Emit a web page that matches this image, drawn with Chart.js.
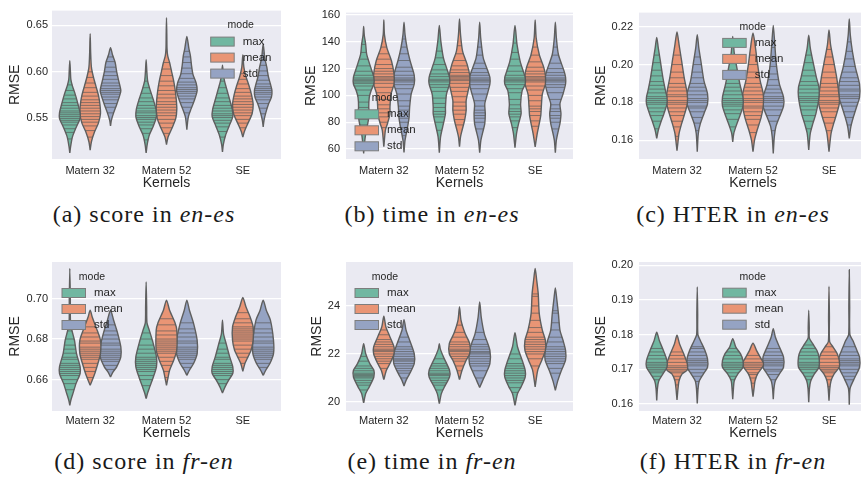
<!DOCTYPE html>
<html>
<head>
<meta charset="utf-8">
<script src="https://cdn.jsdelivr.net/npm/chart.js@4.4.1/dist/chart.umd.min.js"></script>
<style>
  body { margin: 0; width: 861px; height: 477px; overflow: hidden; background: #fff; position: relative; }
  canvas { position: absolute; }
  .cap {
    position: absolute; transform: translateX(-50%); white-space: nowrap;
    font-family: "Liberation Serif", "Times New Roman", serif; font-size: 24px;
    letter-spacing: 1px; line-height: 24px; color: #1a1a1a;
  }
</style>
</head>
<body>
<canvas id="scoreEnEs" width="285" height="195" style="left:0;top:0"></canvas>
<canvas id="timeEnEs" width="287" height="195" style="left:290px;top:0"></canvas>
<canvas id="hterEnEs" width="288" height="195" style="left:583px;top:0"></canvas>
<canvas id="scoreFrEn" width="285" height="206" style="left:0;top:240px"></canvas>
<canvas id="timeFrEn" width="287" height="206" style="left:290px;top:240px"></canvas>
<canvas id="hterFrEn" width="288" height="206" style="left:583px;top:240px"></canvas>

<div class="cap" style="left:144px;top:202px">(a) score in <i>en-es</i></div>
<div class="cap" style="left:432px;top:202px">(b) time in <i>en-es</i></div>
<div class="cap" style="left:733px;top:202px">(c) HTER in <i>en-es</i></div>
<div class="cap" style="left:144px;top:449px">(d) score in <i>fr-en</i></div>
<div class="cap" style="left:432px;top:449px">(e) time in <i>fr-en</i></div>
<div class="cap" style="left:733px;top:449px">(f) HTER in <i>fr-en</i></div>

<script>
const kernels = ['Matern 32', 'Matern 52', 'SE'];
const modes = ['max', 'mean', 'std'];
const modeColors = ['#71b7a1', '#e99575', '#95a3c3'];

// Violin profiles: [value, relative half-width], per mode then per kernel
const scoreEnEsProfiles = [
  [
    [[0.513,0],[0.520,0.08],[0.530,0.25],[0.540,0.6],[0.550,1.0],[0.556,1.0],[0.565,0.8],[0.575,0.55],[0.585,0.25],[0.592,0.1],[0.600,0.06],[0.612,0]],
    [[0.513,0],[0.522,0.1],[0.532,0.3],[0.542,0.7],[0.552,1.0],[0.560,0.95],[0.570,0.7],[0.580,0.4],[0.590,0.15],[0.600,0.07],[0.613,0]],
    [[0.514,0],[0.522,0.08],[0.532,0.3],[0.542,0.65],[0.552,1.0],[0.560,0.95],[0.570,0.7],[0.580,0.45],[0.590,0.2],[0.598,0.08],[0.607,0]]
  ],
  [
    [[0.516,0],[0.525,0.12],[0.535,0.4],[0.545,0.8],[0.555,1.0],[0.565,0.95],[0.575,0.8],[0.585,0.55],[0.595,0.3],[0.605,0.12],[0.620,0.05],[0.641,0]],
    [[0.522,0],[0.530,0.15],[0.540,0.55],[0.550,0.9],[0.560,1.0],[0.570,0.95],[0.580,0.85],[0.590,0.7],[0.600,0.5],[0.610,0.3],[0.617,0.12],[0.625,0.05],[0.640,0.03],[0.658,0]],
    [[0.530,0],[0.536,0.15],[0.545,0.5],[0.555,0.9],[0.565,1.0],[0.575,0.85],[0.585,0.6],[0.595,0.3],[0.605,0.1],[0.618,0]]
  ],
  [
    [[0.542,0],[0.548,0.08],[0.556,0.3],[0.565,0.6],[0.575,0.9],[0.580,1.0],[0.590,0.8],[0.600,0.6],[0.610,0.45],[0.618,0.2],[0.626,0]],
    [[0.538,0],[0.545,0.06],[0.552,0.15],[0.560,0.4],[0.570,0.75],[0.580,1.0],[0.588,0.9],[0.597,0.6],[0.607,0.45],[0.617,0.35],[0.625,0.2],[0.638,0]],
    [[0.541,0],[0.548,0.08],[0.556,0.25],[0.565,0.5],[0.573,0.8],[0.580,0.85],[0.587,0.7],[0.595,0.5],[0.605,0.35],[0.615,0.15],[0.630,0]]
  ]
];
const scoreEnEsSticks = [
  [
    [0.528,0.535,0.539,0.543,0.546,0.548,0.550,0.552,0.554,0.556,0.558,0.561,0.564,0.567,0.571,0.575,0.580,0.586],
    [0.527,0.534,0.539,0.543,0.546,0.549,0.551,0.553,0.556,0.558,0.561,0.564,0.568,0.572,0.577,0.583,0.590],
    [0.530,0.536,0.541,0.545,0.548,0.551,0.553,0.555,0.558,0.561,0.564,0.568,0.572,0.577,0.583,0.590]
  ],
  [
    [0.530,0.537,0.542,0.546,0.549,0.552,0.555,0.558,0.561,0.564,0.567,0.570,0.574,0.578,0.583,0.588,0.594,0.600],
    [0.534,0.540,0.545,0.549,0.553,0.556,0.559,0.562,0.565,0.568,0.572,0.576,0.580,0.585,0.590,0.596,0.603,0.610],
    [0.540,0.545,0.549,0.553,0.556,0.559,0.562,0.565,0.568,0.571,0.574,0.578,0.582,0.587,0.592,0.598]
  ],
  [
    [0.556,0.562,0.566,0.570,0.573,0.576,0.578,0.580,0.582,0.585,0.588,0.592,0.596,0.600,0.605,0.611,0.616],
    [0.556,0.562,0.567,0.571,0.574,0.577,0.579,0.581,0.583,0.586,0.589,0.593,0.598,0.604,0.610,0.616,0.622],
    [0.555,0.561,0.566,0.570,0.573,0.576,0.578,0.580,0.582,0.584,0.587,0.591,0.596,0.601,0.607,0.613,0.620]
  ]
];

const timeEnEsProfiles = [
  [
    [[56.8,0],[64.2,0.08],[71.5,0.2],[78.9,0.4],[86.3,0.55],[91.2,0.5],[98.6,0.55],[104,0.75],[108.5,1.0],[113.5,1.0],[120.7,0.7],[130.5,0.3],[137.9,0.2],[145,0.06],[151.4,0]],
    [[57.3,0],[69.1,0.12],[78.9,0.4],[86.3,0.6],[91.2,0.6],[101,0.7],[108.5,1.0],[113.5,1.0],[120.7,0.7],[128,0.4],[140.3,0.15],[152.1,0]],
    [[61,0],[71.5,0.15],[78.9,0.35],[86.3,0.6],[93.7,0.55],[103.5,0.7],[108.5,1.0],[113.5,1.0],[118.2,0.8],[125.6,0.5],[137.9,0.2],[152.1,0]]
  ],
  [
    [[61.7,0],[74,0.15],[78.9,0.35],[86.3,0.6],[91.2,0.6],[101,0.7],[108.5,1.0],[115.8,1.0],[125.6,0.75],[135.4,0.3],[145.3,0.06],[156.3,0]],
    [[61.7,0],[69.1,0.1],[74,0.25],[81.4,0.5],[88.7,0.65],[96.1,0.65],[103.5,0.85],[108.5,1.0],[115,1.0],[123.1,0.75],[133,0.3],[145.3,0.1],[157,0]],
    [[61.7,0],[71.5,0.2],[78.9,0.4],[85.1,0.55],[91.2,0.6],[101,0.7],[108.5,1.0],[115,1.0],[120.7,0.85],[130.5,0.4],[142.8,0.1],[156.3,0]]
  ],
  [
    [[57.5,0],[66.6,0.1],[76.5,0.35],[83.8,0.5],[91.2,0.55],[101,0.7],[108.5,1.0],[115,1.0],[125.6,0.6],[135.4,0.3],[145.3,0.1],[154.6,0]],
    [[57.3,0],[66.6,0.12],[74,0.35],[78.9,0.5],[86.3,0.55],[93.7,0.5],[101,0.75],[108.5,1.0],[113.5,1.0],[118.2,0.8],[128,0.35],[142.8,0.1],[154.6,0]],
    [[57.3,0],[66.6,0.1],[74,0.3],[78.9,0.45],[86.3,0.55],[93.7,0.45],[101,0.75],[108.5,1.0],[113.5,1.0],[118.2,0.85],[130.5,0.3],[142.8,0.1],[154.6,0]]
  ]
];
const timeEnEsSticks = [
  [
    [72,78,82,86,88,91,95,100,104,107,109,110,111,112,113,115,118,122,127,132,138],
    [74,80,84,86,88,91,94,98,103,106,108,110,111,112,114,116,119,123,128,133],
    [76,81,84,86,88,90,93,97,102,105,108,110,111,112,113,115,118,122,127,132,139]
  ],
  [
    [76,80,84,87,90,93,97,102,106,109,111,112,113,114,116,118,120,123,127,131,136],
    [78,82,86,89,92,95,99,103,106,109,111,112,113,114,115,117,119,122,126,131,137],
    [77,81,85,88,90,92,96,100,104,107,110,111,112,113,114,116,118,121,125,130,136]
  ],
  [
    [70,76,80,83,86,89,92,96,101,105,108,110,111,112,113,115,118,121,126,131,136,142],
    [75,80,83,85,87,89,92,96,101,105,108,110,111,112,113,115,117,120,124,130,136],
    [75,80,83,85,88,90,93,97,102,106,108,110,111,112,113,115,117,120,124,130,136]
  ]
];

const hterEnEsProfiles = [
  [
    [[0.1609,0],[0.1652,0.15],[0.1687,0.35],[0.174,0.7],[0.1792,1.0],[0.1827,1.0],[0.1862,0.85],[0.1931,0.6],[0.2019,0.35],[0.2088,0.15],[0.2144,0]],
    [[0.1591,0],[0.1635,0.1],[0.167,0.3],[0.1722,0.65],[0.178,1.0],[0.1827,1.0],[0.1896,0.7],[0.1984,0.4],[0.206,0.15],[0.2149,0]],
    [[0.1548,0],[0.1635,0.15],[0.1687,0.4],[0.174,0.7],[0.1827,1.0],[0.1879,1.0],[0.1931,0.75],[0.2019,0.4],[0.2088,0.15],[0.2155,0]]
  ],
  [
    [[0.1544,0],[0.1583,0.08],[0.1635,0.2],[0.1687,0.45],[0.174,0.75],[0.1792,1.0],[0.1845,1.0],[0.1931,0.7],[0.2019,0.45],[0.2106,0.2],[0.2172,0]],
    [[0.1539,0],[0.16,0.15],[0.1652,0.4],[0.1722,0.8],[0.178,1.0],[0.1845,1.0],[0.1914,0.7],[0.2001,0.45],[0.2106,0.2],[0.2167,0]],
    [[0.1539,0],[0.1635,0.2],[0.1687,0.45],[0.174,0.75],[0.1792,1.0],[0.1827,1.0],[0.1931,0.75],[0.2019,0.45],[0.2106,0.15],[0.2183,0]]
  ],
  [
    [[0.1539,0],[0.1635,0.1],[0.1687,0.3],[0.174,0.65],[0.1792,1.0],[0.1845,1.0],[0.1914,0.65],[0.2001,0.4],[0.2088,0.15],[0.2158,0]],
    [[0.153,0],[0.1617,0.1],[0.167,0.25],[0.1722,0.6],[0.178,1.0],[0.1827,1.0],[0.1896,0.6],[0.2001,0.3],[0.2106,0.15],[0.2207,0]],
    [[0.1609,0],[0.167,0.15],[0.1722,0.4],[0.1774,0.7],[0.1827,1.0],[0.1896,1.0],[0.1984,0.6],[0.2071,0.3],[0.2158,0.1],[0.2242,0]]
  ]
];
const hterEnEsSticks = [
  [
    [0.166,0.170,0.173,0.175,0.177,0.179,0.180,0.181,0.182,0.183,0.185,0.187,0.189,0.191,0.194,0.197,0.201,0.205],
    [0.167,0.171,0.174,0.176,0.178,0.179,0.180,0.181,0.182,0.184,0.186,0.188,0.190,0.193,0.197,0.201],
    [0.166,0.170,0.173,0.176,0.178,0.180,0.181,0.182,0.183,0.185,0.187,0.189,0.191,0.194,0.197,0.201,0.205]
  ],
  [
    [0.162,0.167,0.170,0.173,0.175,0.177,0.179,0.180,0.181,0.183,0.184,0.186,0.188,0.190,0.193,0.196,0.200,0.205],
    [0.164,0.168,0.171,0.173,0.175,0.177,0.178,0.180,0.181,0.182,0.184,0.186,0.188,0.190,0.193,0.196,0.200,0.205],
    [0.165,0.169,0.172,0.175,0.177,0.179,0.180,0.181,0.183,0.184,0.186,0.188,0.190,0.193,0.196,0.200,0.204,0.208]
  ],
  [
    [0.165,0.169,0.172,0.175,0.177,0.178,0.180,0.181,0.182,0.184,0.186,0.188,0.190,0.193,0.196,0.200,0.204],
    [0.165,0.170,0.173,0.176,0.178,0.180,0.181,0.182,0.183,0.185,0.187,0.189,0.192,0.195,0.199,0.204,0.209],
    [0.168,0.172,0.175,0.178,0.180,0.182,0.183,0.184,0.186,0.187,0.189,0.191,0.193,0.196,0.199,0.203,0.207,0.212]
  ]
];

const scoreFrEnProfiles = [
  [
    [[0.6473,0],[0.6498,0.1],[0.6531,0.3],[0.658,0.6],[0.663,1.0],[0.6663,1.0],[0.6728,0.65],[0.6794,0.45],[0.6844,0.2],[0.6893,0.06],[0.700,0.05],[0.7148,0]],
    [[0.6506,0],[0.6535,0.15],[0.6564,0.35],[0.6613,0.7],[0.6663,1.0],[0.6712,1.0],[0.6794,0.6],[0.6844,0.3],[0.688,0.08],[0.696,0.05],[0.7082,0]],
    [[0.6534,0],[0.6564,0.25],[0.6597,0.6],[0.663,1.0],[0.6663,1.0],[0.6712,0.7],[0.6778,0.35],[0.6827,0.1],[0.6893,0]]
  ],
  [
    [[0.6572,0],[0.6597,0.2],[0.663,0.45],[0.6679,0.75],[0.6728,1.0],[0.6794,1.0],[0.686,0.55],[0.6909,0.2],[0.6942,0]],
    [[0.6572,0],[0.661,0.15],[0.6646,0.3],[0.6695,0.7],[0.6745,1.0],[0.6844,1.0],[0.6877,0.85],[0.6942,0.3],[0.6992,0]],
    [[0.6641,0],[0.6679,0.2],[0.6712,0.5],[0.6745,0.8],[0.6794,1.0],[0.686,1.0],[0.691,0.7],[0.6959,0.3],[0.7005,0]]
  ],
  [
    [[0.6613,0],[0.6638,0.25],[0.6663,0.6],[0.6712,1.0],[0.6761,1.0],[0.6827,0.7],[0.6893,0.3],[0.6942,0]],
    [[0.6621,0],[0.6646,0.25],[0.6679,0.65],[0.6728,1.0],[0.6794,1.0],[0.6877,0.65],[0.6942,0.25],[0.6992,0]],
    [[0.6621,0],[0.6646,0.25],[0.6679,0.65],[0.6728,1.0],[0.6794,1.0],[0.6893,0.7],[0.6942,0.3],[0.6992,0]]
  ]
];
const scoreFrEnSticks = [
  [
    [0.655,0.658,0.660,0.662,0.663,0.664,0.665,0.666,0.667,0.668,0.670,0.671,0.673,0.675,0.677,0.680,0.684],
    [0.657,0.660,0.662,0.664,0.665,0.666,0.667,0.668,0.669,0.670,0.671,0.673,0.675,0.677,0.680,0.683],
    [0.658,0.660,0.662,0.663,0.664,0.665,0.666,0.667,0.668,0.670,0.671,0.673,0.675,0.678]
  ],
  [
    [0.661,0.664,0.666,0.668,0.670,0.671,0.672,0.673,0.674,0.675,0.676,0.678,0.679,0.681,0.683,0.686],
    [0.661,0.664,0.667,0.669,0.671,0.673,0.674,0.675,0.676,0.677,0.678,0.679,0.680,0.682,0.684,0.687,0.690],
    [0.668,0.671,0.673,0.675,0.677,0.679,0.680,0.681,0.682,0.683,0.684,0.685,0.686,0.688,0.690,0.693]
  ],
  [
    [0.665,0.667,0.669,0.670,0.671,0.672,0.673,0.674,0.675,0.677,0.678,0.680,0.682,0.684,0.687],
    [0.666,0.668,0.670,0.671,0.672,0.673,0.674,0.675,0.676,0.678,0.679,0.681,0.683,0.685,0.688],
    [0.666,0.668,0.670,0.671,0.672,0.673,0.674,0.675,0.676,0.678,0.679,0.681,0.683,0.685,0.688]
  ]
];

const timeFrEnProfiles = [
  [
    [[19.96,0],[20.35,0.2],[20.63,0.55],[21.04,1.0],[21.32,1.0],[21.6,0.6],[22.01,0.2],[22.43,0]],
    [[19.93,0],[20.35,0.2],[20.63,0.5],[21.04,1.0],[21.32,1.0],[21.88,0.4],[22.2,0.1],[22.43,0]],
    [[19.86,0],[20.35,0.25],[20.63,0.6],[21.04,1.0],[21.32,1.0],[21.74,0.7],[22.29,0.25],[22.89,0]]
  ],
  [
    [[20.93,0],[21.32,0.25],[21.6,0.6],[22.01,1.0],[22.29,1.0],[22.71,0.6],[23.13,0.2],[23.57,0]],
    [[20.93,0],[21.32,0.25],[21.74,0.65],[22.01,1.0],[22.43,1.0],[22.85,0.55],[23.4,0.15],[23.96,0]],
    [[20.63,0],[21.32,0.25],[21.74,0.65],[22.15,1.0],[22.57,1.0],[22.99,0.7],[23.68,0.4],[24.51,0.3],[25.07,0.15],[25.56,0]]
  ],
  [
    [[20.67,0],[20.9,0.2],[21.18,0.55],[21.6,1.0],[22.01,1.0],[22.57,0.55],[22.99,0.2],[23.43,0]],
    [[20.6,0],[20.9,0.3],[21.18,0.6],[21.6,1.0],[22.15,1.0],[22.85,0.45],[23.54,0.15],[24.17,0]],
    [[20.49,0],[20.9,0.25],[21.32,0.6],[21.74,1.0],[22.15,1.0],[22.57,0.75],[22.99,0.45],[23.68,0.3],[24.24,0.15],[24.75,0]]
  ]
];
const timeFrEnSticks = [
  [
    [20.5,20.7,20.8,20.9,21.0,21.05,21.1,21.15,21.2,21.3,21.4,21.5,21.7,21.9],
    [20.5,20.7,20.8,20.9,21.0,21.1,21.15,21.2,21.3,21.4,21.5,21.6,21.8],
    [20.4,20.6,20.8,20.9,21.0,21.1,21.2,21.3,21.4,21.5,21.6,21.8,22.0]
  ],
  [
    [21.4,21.6,21.7,21.8,21.9,22.0,22.1,22.15,22.2,22.3,22.4,22.5,22.6,22.8,23.0],
    [21.3,21.5,21.7,21.8,21.9,22.0,22.1,22.15,22.2,22.3,22.4,22.5,22.7,22.9,23.2],
    [21.5,21.8,22.0,22.1,22.2,22.3,22.4,22.5,22.6,22.7,22.9,23.1,23.4,23.7,24.0,24.4,24.5]
  ],
  [
    [21.0,21.2,21.3,21.4,21.5,21.6,21.7,21.75,21.8,21.9,22.0,22.1,22.2,22.3,22.5,22.7],
    [21.0,21.3,21.5,21.6,21.7,21.8,21.9,22.0,22.05,22.1,22.2,22.3,22.4,22.6,22.9],
    [21.2,21.4,21.6,21.7,21.8,21.9,22.0,22.1,22.2,22.3,22.5,22.7,23.0,23.3,23.7,23.8]
  ]
];

const hterFrEnProfiles = [
  [
    [[0.161,0],[0.1645,0.07],[0.1667,0.2],[0.1687,0.6],[0.1706,1.0],[0.1725,1.0],[0.1754,0.65],[0.1783,0.25],[0.1807,0]],
    [[0.1614,0],[0.1645,0.07],[0.1667,0.15],[0.1687,0.5],[0.1706,1.0],[0.1725,1.0],[0.1745,0.75],[0.1764,0.3],[0.1788,0]],
    [[0.1605,0],[0.1645,0.07],[0.1667,0.2],[0.1687,0.55],[0.1706,1.0],[0.1735,1.0],[0.1754,0.8],[0.1773,0.4],[0.179,0.06],[0.182,0.05],[0.187,0]]
  ],
  [
    [[0.1612,0],[0.1645,0.1],[0.1667,0.2],[0.1687,0.5],[0.1698,1.0],[0.1716,1.0],[0.1745,0.65],[0.1773,0.25],[0.1798,0]],
    [[0.1621,0],[0.1645,0.1],[0.1667,0.2],[0.1687,0.45],[0.171,1.0],[0.172,1.0],[0.173,0.8],[0.1754,0.35],[0.1775,0]],
    [[0.161,0],[0.1645,0.08],[0.1667,0.2],[0.1687,0.5],[0.1706,1.0],[0.1725,1.0],[0.1745,0.8],[0.1764,0.4],[0.178,0.06],[0.185,0.04],[0.1939,0]]
  ],
  [
    [[0.1602,0],[0.1645,0.08],[0.1667,0.2],[0.1687,0.6],[0.1706,1.0],[0.173,1.0],[0.1754,0.75],[0.1783,0.3],[0.180,0.06],[0.186,0.04],[0.1937,0]],
    [[0.1614,0],[0.1645,0.07],[0.1667,0.2],[0.1687,0.6],[0.1706,1.0],[0.1735,1.0],[0.1764,0.6],[0.1793,0.2],[0.1817,0]],
    [[0.1598,0],[0.1645,0.08],[0.1677,0.55],[0.1706,1.0],[0.1735,1.0],[0.1754,0.75],[0.1783,0.35],[0.180,0.06],[0.188,0.04],[0.1987,0]]
  ]
];
const hterFrEnSticks = [
  [
    [0.1645,0.167,0.168,0.169,0.1695,0.170,0.1705,0.171,0.1715,0.172,0.173,0.174,0.175,0.176],
    [0.1645,0.167,0.168,0.169,0.170,0.1705,0.171,0.1715,0.172,0.173,0.174,0.175,0.176],
    [0.1645,0.167,0.168,0.169,0.170,0.1705,0.171,0.1715,0.172,0.173,0.174,0.175,0.176,0.177]
  ],
  [
    [0.163,0.1655,0.167,0.168,0.169,0.1695,0.170,0.1705,0.171,0.172,0.173,0.174,0.175],
    [0.164,0.166,0.1675,0.1685,0.169,0.170,0.1705,0.171,0.1715,0.172,0.173,0.174],
    [0.165,0.167,0.168,0.169,0.1695,0.170,0.1705,0.171,0.172,0.173,0.174,0.175,0.1765]
  ],
  [
    [0.1645,0.1665,0.168,0.169,0.170,0.171,0.1715,0.172,0.1725,0.173,0.174,0.175,0.176,0.1765],
    [0.1645,0.167,0.1685,0.1695,0.170,0.171,0.1715,0.172,0.1725,0.173,0.174,0.175,0.176],
    [0.1645,0.167,0.168,0.169,0.170,0.171,0.1715,0.172,0.1725,0.173,0.174,0.175,0.1765]
  ]
];

const HUE_STEP = 0.8 / 3;   // offset between the three modes inside a kernel group
const HALF = 0.135;         // full half-width of one violin, in category units
const OUTLINE = '#5f5f5f';
const STICK = 'rgba(89,89,89,0.85)';
const TEXT = '#262626';

Chart.defaults.font.family = '"Liberation Sans", Arial, sans-serif';
Chart.defaults.color = TEXT;

// half-width of a violin at value v
function widthAt(profile, v) {
  for (let i = 0; i < profile.length - 1; i++) {
    const [v0, w0] = profile[i];
    const [v1, w1] = profile[i + 1];
    if (v >= v0 && v <= v1) return w0 + (w1 - w0) * (v - v0) / (v1 - v0);
  }
  return 0;
}

function violinDatasets(profiles, sticks) {
  const outlines = [];
  const lines = [];
  profiles.forEach((byKernel, m) => {
    byKernel.forEach((profile, k) => {
      const centre = k + (m - 1) * HUE_STEP;
      const left = profile.map(([v, w]) => ({ x: centre - w * HALF, y: v }));
      const right = profile.slice().reverse().map(([v, w]) => ({ x: centre + w * HALF, y: v }));
      outlines.push({
        data: left.concat(right.slice(1)),
        showLine: true,
        fill: 'shape',
        backgroundColor: modeColors[m],
        borderColor: OUTLINE,
        borderWidth: 1.4,
        pointRadius: 0,
        tension: 0.25,
        order: 2,
      });
      const pts = [];
      sticks[m][k].forEach(v => {
        const w = widthAt(profile, v) * HALF;
        pts.push({ x: centre - w, y: v }, { x: centre + w, y: v }, { x: null, y: null });
      });
      lines.push({
        data: pts,
        showLine: true,
        fill: false,
        borderColor: STICK,
        borderWidth: 0.8,
        pointRadius: 0,
        tension: 0,
        order: 1,
      });
    });
  });
  return outlines.concat(lines);
}

const plotBackground = {
  id: 'plotBackground',
  beforeDraw(chart) {
    const { ctx, chartArea: a } = chart;
    ctx.save();
    ctx.fillStyle = '#eaeaf2';
    ctx.fillRect(a.left, a.top, a.right - a.left, a.bottom - a.top);
    ctx.restore();
  }
};

// "mode" legend drawn inside the plot area
const modeLegend = {
  id: 'modeLegend',
  afterDatasetsDraw(chart, args, opts) {
    const { ctx, chartArea } = chart;
    const x0 = chartArea.left + opts.left;
    const y0 = chartArea.top + opts.top;
    ctx.save();
    ctx.textBaseline = 'middle';
    ctx.fillStyle = TEXT;
    ctx.textAlign = 'center';
    ctx.font = '10.5px "Liberation Sans", Arial, sans-serif';
    ctx.fillText('mode', x0 + 30, y0);
    ctx.textAlign = 'left';
    ctx.font = '11.5px "Liberation Sans", Arial, sans-serif';
    modes.forEach((name, i) => {
      const y = y0 + 16 * (i + 1);
      ctx.fillStyle = modeColors[i];
      ctx.fillRect(x0, y - 4.5, 23.5, 9);
      ctx.strokeStyle = '#7d7d7d';
      ctx.lineWidth = 1;
      ctx.strokeRect(x0, y - 4.5, 23.5, 9);
      ctx.fillStyle = TEXT;
      ctx.fillText(name, x0 + 32, y);
    });
    ctx.restore();
  }
};

const panels = [
  { id: 'scoreEnEs', profiles: scoreEnEsProfiles, sticks: scoreEnEsSticks, yMin: 0.5065, yMax: 0.6657, step: 0.05, digits: 2,
    yAxisW: 52, padTop: 10, xAxisH: 36, tickPad: 4, titlePad: 7, xTickPad: 5, xTitlePad: 3.6, legend: { left: 158.7, top: 15 } },
  { id: 'timeEnEs', profiles: timeEnEsProfiles, sticks: timeEnEsSticks, yMin: 52.6, yMax: 161.7, step: 20, digits: 0,
    yAxisW: 56, padTop: 11, xAxisH: 36, tickPad: 6, titlePad: 13, xTickPad: 5, xTitlePad: 3.6, legend: { left: 9, top: 85.7 } },
  { id: 'hterEnEs', profiles: hterEnEsProfiles, sticks: hterEnEsSticks, yMin: 0.150, yMax: 0.2275, step: 0.02, digits: 2,
    yAxisW: 56, padTop: 11, xAxisH: 36, tickPad: 6, titlePad: 10, xTickPad: 5, xTitlePad: 3.6, legend: { left: 83.7, top: 14.3 } },
  { id: 'scoreFrEn', profiles: scoreFrEnProfiles, sticks: scoreFrEnSticks, yMin: 0.6445, yMax: 0.718, step: 0.02, digits: 2,
    yAxisW: 52, padTop: 22, xAxisH: 35, tickPad: 4, titlePad: 7, xTickPad: 3, xTitlePad: 4.6, legend: { left: 10, top: 15 } },
  { id: 'timeFrEn', profiles: timeFrEnProfiles, sticks: timeFrEnSticks, yMin: 19.625, yMax: 25.83, step: 2, digits: 0,
    yAxisW: 56, padTop: 22, xAxisH: 35, tickPad: 6, titlePad: 19, xTickPad: 3, xTitlePad: 4.6, legend: { left: 9, top: 15 } },
  { id: 'hterFrEn', profiles: hterFrEnProfiles, sticks: hterFrEnSticks, yMin: 0.158, yMax: 0.2009, step: 0.01, digits: 2,
    yAxisW: 56, padTop: 22, xAxisH: 35, tickPad: 6, titlePad: 10, xTickPad: 3, xTitlePad: 4.6, legend: { left: 83.7, top: 14.7 } },
];

panels.forEach(p => {
  new Chart(document.getElementById(p.id), {
    type: 'scatter',
    data: { datasets: violinDatasets(p.profiles, p.sticks) },
    options: {
      responsive: false,
      animation: false,
      events: [],
      devicePixelRatio: 1,
      layout: { padding: { top: p.padTop, right: 4, left: 0, bottom: 0 } },
      plugins: {
        legend: { display: false },
        tooltip: { enabled: false },
        modeLegend: p.legend,
      },
      scales: {
        x: {
          type: 'linear',
          min: -0.5,
          max: 2.5,
          afterBuildTicks: s => { s.ticks = kernels.map((k, i) => ({ value: i })); },
          afterFit: s => { s.height = p.xAxisH; },
          ticks: {
            callback: v => kernels[v],
            autoSkip: false,
            maxRotation: 0,
            padding: p.xTickPad,
            color: TEXT,
            font: { size: 11 },
          },
          grid: { display: false, drawTicks: false },
          border: { display: false },
          title: { display: true, text: 'Kernels', color: TEXT, font: { size: 14 }, padding: { top: 0, bottom: p.xTitlePad } },
        },
        y: {
          min: p.yMin,
          max: p.yMax,
          afterFit: s => { s.width = p.yAxisW; },
          ticks: {
            stepSize: p.step,
            includeBounds: false,
            padding: p.tickPad,
            color: TEXT,
            font: { size: 11 },
            callback: v => Number(v).toFixed(p.digits),
          },
          grid: { color: '#ffffff', lineWidth: 1.2, drawTicks: false },
          border: { display: false },
          title: { display: true, text: 'RMSE', color: TEXT, font: { size: 14 }, padding: { top: p.titlePad, bottom: 0 } },
        },
      },
    },
    plugins: [plotBackground, modeLegend],
  });
});
</script>
</body>
</html>
